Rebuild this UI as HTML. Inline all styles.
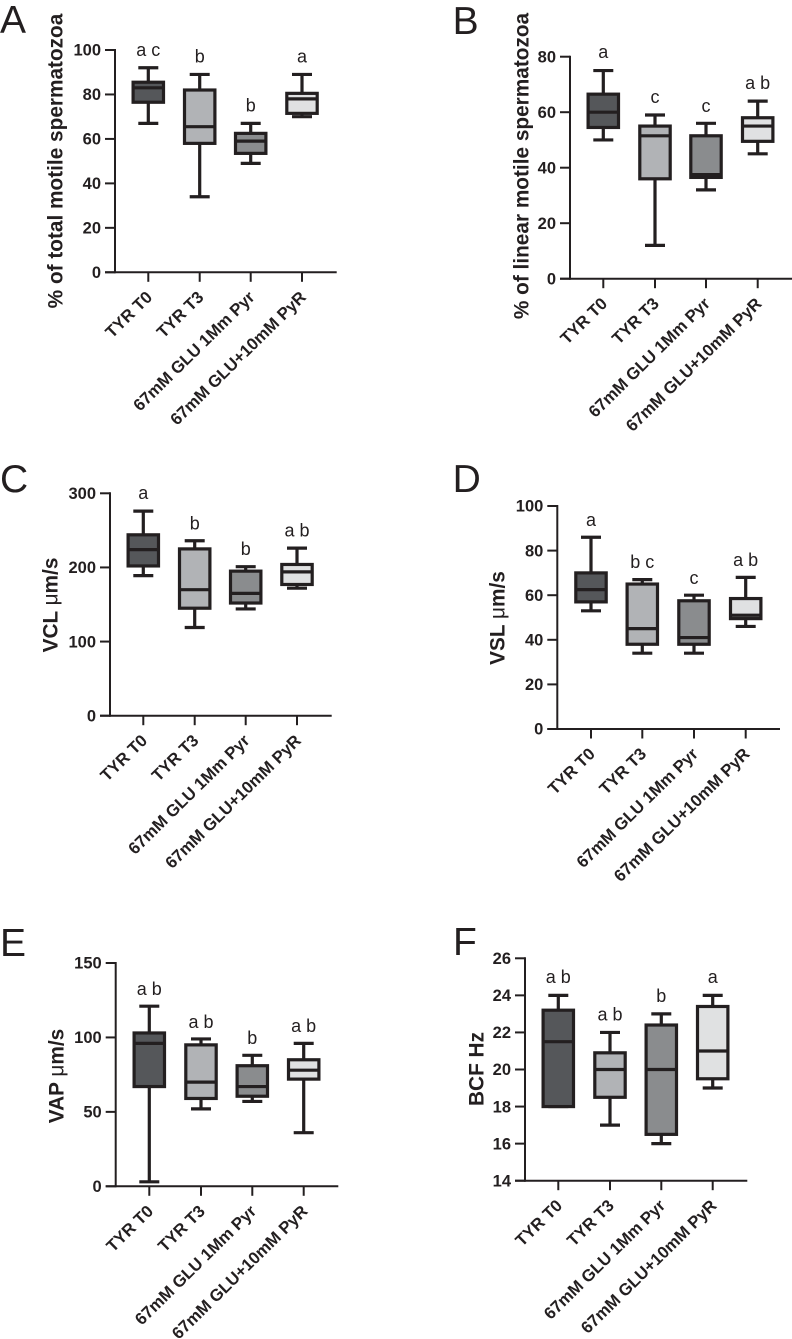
<!DOCTYPE html>
<html lang="en">
<head>
<meta charset="utf-8">
<title>Spermatozoa motility box plots</title>
<style>
html,body{margin:0;padding:0;background:#fff;}
svg{display:block;font-family:"Liberation Sans",Arial,sans-serif;}
</style>
</head>
<body>
<svg id="figure" width="792" height="1339" viewBox="0 0 792 1339" xmlns="http://www.w3.org/2000/svg"></svg>
<script>
const categories = ["TYR T0", "TYR T3", "67mM GLU 1Mm Pyr", "67mM GLU+10mM PyR"];
const fills = ["#55575a", "#b1b3b6", "#8a8c8e", "#e0e1e2"];

// five-number summaries: low whisker, Q1, median, Q3, high whisker
const boxesA = [[67,76.5,83,85.5,92],[34,58,65.5,82,89],[49,53.5,59,62.5,67],[70,71.5,78,80.5,89]];
const boxesB = [[50,54.5,60,66.5,75],[12,36,51.5,55,59],[32,36.5,37.5,51.5,56],[45,49.5,55,58,64]];
const boxesC = [[189,202,224,244,276],[119,145,170,225,236],[144,152,165,195,201],[172,177,194,204,226]];
const boxesD = [[53,57,62.5,70,86],[34,38,45,65,67],[34,38,41,57.5,60],[46,49.5,51,58.5,68]];
const boxesE = [[3,67,96,103,121],[52,59,70,95,99],[57,60.5,67,81,88],[36,72,78,85,96]];
const boxesF = [[18,18,21.5,23.2,24],[17,18.5,20,20.9,22],[16,16.5,20,22.4,23],[19,19.5,21,23.4,24]];

const ticksA = [0,20,40,60,80,100];
const ticksB = [0,20,40,60,80];
const ticksC = [0,100,200,300];
const ticksD = [0,20,40,60,80,100];
const ticksE = [0,50,100,150];
const ticksF = [14,16,18,20,22,24,26];

const lettersA = ["a c","b","b","a"];
const lettersB = ["a","c","c","a b"];
const lettersC = ["a","b","b","a b"];
const lettersD = ["a","b c","c","a b"];
const lettersE = ["a b","a b","b","a b"];
const lettersF = ["a b","a b","b","a"];

// height (in data units) of each significance letter's baseline
const letterLevelsA = [97.3,94.3,72.3,94.3];
const letterLevelsB = [79.5,63.3,60.1,68.4];
const letterLevelsC = [292,251.5,217,241.5];
const letterLevelsD = [91,72.2,65,73];
const letterLevelsE = [128.5,106.5,95.5,103.8];
const letterLevelsF = [24.67,22.65,23.64,24.67];

const panels = [
  {id:"a",letter:"A",letterX:0,letterY:33,title:"% of total motile spermatozoa",unit:"",titleX:62.7,titleY:161,axisX:115,y0:272.3,yTop:50,cats:[148.3,199.7,250.7,302],xEnd:336.7,boxes:boxesA,ticks:ticksA,letters:lettersA,levels:letterLevelsA},
  {id:"b",letter:"B",letterX:452.6,letterY:34,title:"% of linear motile spermatozoa",unit:"",titleX:528.3,titleY:166,axisX:570,y0:278.7,yTop:56.7,cats:[603.3,655,706,757.7],xEnd:792,boxes:boxesB,ticks:ticksB,letters:lettersB,levels:letterLevelsB},
  {id:"c",letter:"C",letterX:0,letterY:492,title:"VCL ",unit:"\u03bcm/s",titleX:57.3,titleY:605,axisX:110,y0:715.7,yTop:493.3,cats:[143.3,194.7,245.7,297],xEnd:331.7,boxes:boxesC,ticks:ticksC,letters:lettersC,levels:letterLevelsC},
  {id:"d",letter:"D",letterX:452.6,letterY:492,title:"VSL ",unit:"\u03bcm/s",titleX:504.3,titleY:618,axisX:557.3,y0:729,yTop:506,cats:[591,642.3,694,745.7],xEnd:780,boxes:boxesD,ticks:ticksD,letters:lettersD,levels:letterLevelsD},
  {id:"e",letter:"E",letterX:0,letterY:956,title:"VAP ",unit:"\u03bcm/s",titleX:63.3,titleY:1076,axisX:115.7,y0:1186.3,yTop:963,cats:[149.3,201,252.3,303.7],xEnd:338.3,boxes:boxesE,ticks:ticksE,letters:lettersE,levels:letterLevelsE},
  {id:"f",letter:"F",letterX:453,letterY:955,title:"BCF Hz",unit:"",titleX:483.3,titleY:1069,axisX:525,y0:1180.7,yTop:958.3,cats:[558.3,610,661.3,712.7],xEnd:747.3,boxes:boxesF,ticks:ticksF,letters:lettersF,levels:letterLevelsF}
];

const INK = "#231f20";
const svg = document.getElementById("figure");
const NS = "http://www.w3.org/2000/svg";

function make(tag, parent, attrs, text) {
  const el = document.createElementNS(NS, tag);
  for (const k in attrs) el.setAttribute(k, attrs[k]);
  if (text !== undefined) el.textContent = text;
  parent.appendChild(el);
  return el;
}

function line(parent, x1, y1, x2, y2, w, name) {
  const el = make("line", parent, {x1, y1, x2, y2, stroke: INK, "stroke-width": w});
  
  
  return el;
}

function drawPanel(p) {
  const min = p.ticks[0];
  const max = p.ticks[p.ticks.length - 1];
  const yScale = v => p.y0 - (v - min) / (max - min) * (p.y0 - p.yTop);

  const g = make("g", svg, {});
  
  

  const letter = make("text", g, {x: p.letterX, y: p.letterY, "font-size": 39, fill: INK}, p.letter);
  
  

  const title = make("text", g, {
    transform: "translate(" + p.titleX + "," + p.titleY + ") rotate(-90)",
    "text-anchor": "middle", "font-size": 20.8, "font-weight": "bold", fill: INK
  }, p.title);
  
  
  if (p.unit) {
    const u = make("tspan", title, {"font-weight": "normal"}, p.unit.charAt(0));
    
    
    const rest = make("tspan", title, {}, p.unit.slice(1));
    
    
  }

  line(g, p.axisX, p.yTop - 1, p.axisX, p.y0 + 1, 2, 'y-axis-line-' + p.id);
  line(g, p.axisX - 10, p.y0, p.xEnd, p.y0, 2, 'x-axis-line-' + p.id);

  p.ticks.forEach(function (t) {
    const y = yScale(t);
    line(g, p.axisX - 10, y, p.axisX, y, 2, 'y-tick-' + p.id + '-' + t);
    const lab = make("text", g, {
      x: p.axisX - 14, y: y + 5.7, "text-anchor": "end",
      "font-size": 16.5, "font-weight": "bold", fill: INK
    }, String(t));
    
    
  });

  categories.forEach(function (cat, i) {
    const x = p.cats[i];
    line(g, x, p.y0, x, p.y0 + 9.5, 2, 'x-tick-' + p.id + '-' + i);
    const lab = make("text", g, {
      transform: "translate(" + (x + 5) + "," + (p.y0 + 26) + ") rotate(-44.5)",
      "text-anchor": "end", "font-size": 16.8, "font-weight": "bold", fill: INK
    }, cat);
    
    

    const s = p.boxes[i];
    const box = make("g", g, {});
    
    
    line(box, x, yScale(s[0]), x, yScale(s[4]), 3.2, 'whisker-' + p.id + '-' + i);
    line(box, x - 10, yScale(s[0]), x + 10, yScale(s[0]), 3.2, 'whisker-cap-low-' + p.id + '-' + i);
    line(box, x - 10, yScale(s[4]), x + 10, yScale(s[4]), 3.2, 'whisker-cap-high-' + p.id + '-' + i);
    const rect = make("rect", box, {
      x: x - 15.2, y: yScale(s[3]), width: 30.4, height: yScale(s[1]) - yScale(s[3]),
      fill: fills[i], stroke: INK, "stroke-width": 3.2
    });
    
    
    line(box, x - 15.2, yScale(s[2]), x + 15.2, yScale(s[2]), 3.2, 'median-' + p.id + '-' + i);

    const sig = make("text", g, {
      x: x, y: yScale(p.levels[i]), "text-anchor": "middle", "font-size": 18, fill: INK
    }, p.letters[i]);
    
    
  });
}

panels.forEach(drawPanel);
</script>
</body>
</html>
